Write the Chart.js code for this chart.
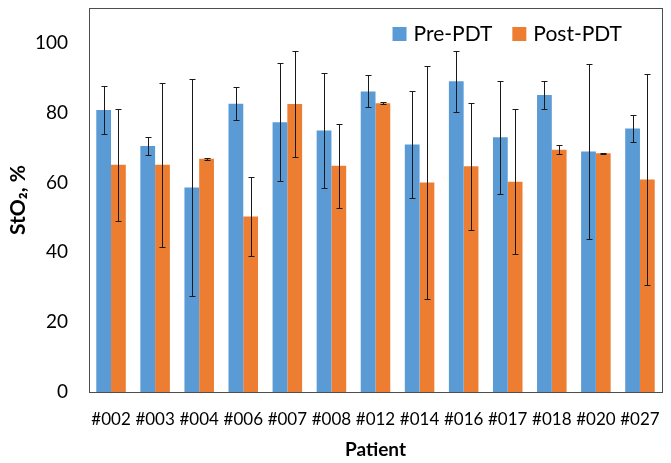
<!DOCTYPE html>
<html>
<head>
<meta charset="utf-8">
<script src="https://cdn.jsdelivr.net/npm/chart.js@4"></script>
<style>
  html, body { margin: 0; padding: 0; background: #fff; }
  #wrap { width: 671px; height: 463px; }
</style>
</head>
<body>
<div id="wrap"><canvas id="stoChart"></canvas></div>
<script>
// 患者编号
const patients = ["#002", "#003", "#004", "#006", "#007", "#008", "#012", "#014", "#016", "#017", "#018", "#020", "#027"];
// PDT 前后 StO2 均值与标准差
const preValues = [80.8, 70.5, 58.6, 82.6, 77.3, 74.9, 86.1, 70.9, 89.0, 73.0, 85.1, 68.9, 75.5];
const preErr = [6.8, 2.5, 31.0, 4.7, 17.0, 16.4, 4.6, 15.4, 8.8, 16.2, 4.1, 25.0, 3.8];
const postValues = [65.1, 65.1, 66.8, 50.3, 82.5, 64.8, 82.7, 60.0, 64.7, 60.2, 69.4, 68.4, 60.9];
const postErr = [16.1, 23.5, 0.3, 11.4, 15.2, 12.0, 0.3, 33.3, 18.2, 20.8, 1.3, 0.2, 30.2];

const font = "Lato";

// 误差线
const errorBars = {
  id: "errorBars",
  afterDatasetsDraw(chart) {
    const ctx = chart.ctx;
    const y = chart.scales.y;
    ctx.save();
    ctx.strokeStyle = "#1a1a1a";
    ctx.lineWidth = 1;
    chart.data.datasets.forEach((ds, i) => {
      const meta = chart.getDatasetMeta(i);
      meta.data.forEach((bar, j) => {
        const v = ds.data[j], e = ds.errors[j];
        const top = Math.round(y.getPixelForValue(v + e)) + 0.5;
        const bot = Math.round(y.getPixelForValue(v - e)) + 0.5;
        const x = Math.round(bar.x) + 0.5;
        ctx.beginPath();
        ctx.moveTo(x, top); ctx.lineTo(x, bot);
        ctx.moveTo(x - 3, top); ctx.lineTo(x + 3, top);
        ctx.moveTo(x - 3, bot); ctx.lineTo(x + 3, bot);
        ctx.stroke();
      });
    });
    ctx.restore();
  }
};

// 绘图区边框 + 图例（放在绘图区右上角）
const areaBox = {
  id: "areaBox",
  afterDraw(chart) {
    const a = chart.chartArea;
    const ctx = chart.ctx;
    ctx.save();
    ctx.strokeStyle = "#4d4d4d";
    ctx.lineWidth = 1;
    ctx.strokeRect(Math.round(a.left) + 0.5, Math.round(a.top) + 0.5, Math.round(a.right - a.left), Math.round(a.bottom - a.top));

    ctx.font = "21px " + font;
    ctx.textBaseline = "middle";
    let x = a.right - 40;
    const yMid = a.top + 26;
    const items = chart.data.datasets.slice().reverse();
    items.forEach(ds => {
      const w = ctx.measureText(ds.label).width;
      x -= w;
      ctx.fillStyle = "#000";
      ctx.fillText(ds.label, x, yMid);
      x -= 7 + 14;
      ctx.fillStyle = ds.backgroundColor;
      ctx.fillRect(x, yMid - 7, 14, 14);
      x -= 20;
    });
    ctx.restore();
  }
};

const ctx = document.getElementById("stoChart").getContext("2d");
new Chart(ctx, {
  type: "bar",
  data: {
    labels: patients,
    datasets: [
      {
        label: "Pre-PDT",
        data: preValues,
        errors: preErr,
        backgroundColor: "#5b9bd5",
        categoryPercentage: 0.67,
        barPercentage: 1.0
      },
      {
        label: "Post-PDT",
        data: postValues,
        errors: postErr,
        backgroundColor: "#ed7d31",
        categoryPercentage: 0.67,
        barPercentage: 1.0
      }
    ]
  },
  options: {
    responsive: true,
    maintainAspectRatio: false,
    animation: false,
    layout: { padding: { top: 8, right: 9, left: 0, bottom: 0 } },
    scales: {
      x: {
        grid: { display: false, drawTicks: false },
        border: { display: false },
        ticks: { color: "#000", font: { family: font, size: 17 }, padding: 17, maxRotation: 0, autoSkip: false },
        title: { display: true, text: "Patient", color: "#000", font: { family: font, size: 19, weight: "bold" }, padding: { top: 4, bottom: 2 } },
        afterFit(scale) {
          scale.height = 71;
          scale.paddingLeft = 0; scale.paddingRight = 0;
        }
      },
      y: {
        min: 0,
        max: 110,
        grid: { display: false, drawTicks: false },
        border: { display: false },
        ticks: { stepSize: 20, includeBounds: false, color: "#000", font: { family: font, size: 19 }, padding: 21 },
        title: { display: true, text: "StO₂, %", color: "#000", font: { family: font, size: 21, weight: "bold" }, padding: { top: 6, bottom: 8 } },
        afterFit(scale) {
          scale.width = 89;
          scale.paddingTop = 0; scale.paddingBottom = 0;
        }
      }
    },
    plugins: {
      legend: { display: false },
      tooltip: { enabled: false }
    }
  },
  plugins: [errorBars, areaBox]
});
</script>
</body>
</html>
